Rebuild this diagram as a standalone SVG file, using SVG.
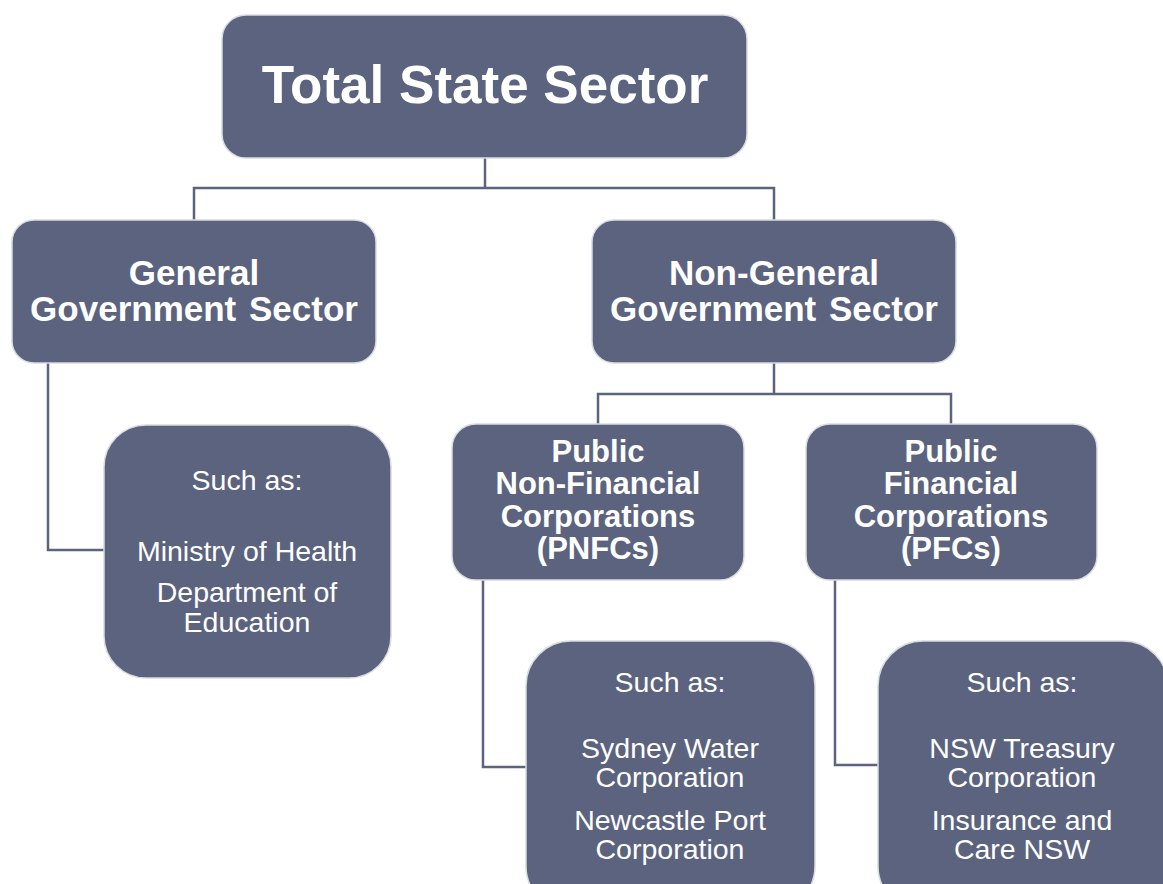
<svg xmlns="http://www.w3.org/2000/svg" width="1163" height="884" viewBox="0 0 1163 884">
<style>
.box{fill:#5C637F;stroke:#D9DBE2;stroke-width:1.5}
.ln{fill:none;stroke:#5C637F;stroke-width:2.5}
.t{font-family:"Liberation Sans",Arial,sans-serif;fill:#fff;text-anchor:middle}
.b{font-weight:bold}
.h{font-size:35px;font-weight:bold}
.m{font-size:31px;font-weight:bold}
.s{font-size:28.5px}
.e{font-size:28.5px}
</style>
<rect width="1163" height="884" fill="#fff"/>
<g id="connectors">
<polyline class="ln" points="485,158 485,188"/>
<polyline class="ln" points="194,220 194,188 774,188 774,220"/>
<polyline class="ln" points="48,363 48,550 105,550"/>
<polyline class="ln" points="774,363 774,394"/>
<polyline class="ln" points="598,425 598,394 951,394 951,425"/>
<polyline class="ln" points="483,580 483,767 527,767"/>
<polyline class="ln" points="835,580 835,765 879,765"/>
</g>
<g id="total">
<rect class="box" x="222" y="15" width="525" height="143" rx="24"/>
<text class="t b" x="485" y="103" font-size="53">Total State Sector</text>
</g>
<g id="ggs">
<rect class="box" x="12" y="220" width="364" height="143" rx="22"/>
<text class="t h" x="194" y="285">General</text>
<text class="t h" x="194" y="321" word-spacing="3">Government Sector</text>
</g>
<g id="nggs">
<rect class="box" x="592" y="220" width="364" height="143" rx="22"/>
<text class="t h" x="774" y="285">Non-General</text>
<text class="t h" x="774" y="321" word-spacing="3">Government Sector</text>
</g>
<g id="ggs-examples">
<rect class="box" x="104" y="425" width="287" height="253" rx="42"/>
<text class="t s" x="247" y="490">Such as:</text>
<text class="t s" x="247" y="561">Ministry of Health</text>
<text class="t s" x="247" y="602">Department of</text>
<text class="t s" x="247" y="632">Education</text>
</g>
<g id="pnfc">
<rect class="box" x="452" y="424" width="292" height="156" rx="24"/>
<text class="t m" x="598" y="462">Public</text>
<text class="t m" x="598" y="494">Non-Financial</text>
<text class="t m" x="598" y="527">Corporations</text>
<text class="t m" x="598" y="559">(PNFCs)</text>
</g>
<g id="pfc">
<rect class="box" x="806" y="424" width="291" height="156" rx="24"/>
<text class="t m" x="951" y="462">Public</text>
<text class="t m" x="951" y="494">Financial</text>
<text class="t m" x="951" y="527">Corporations</text>
<text class="t m" x="951" y="559">(PFCs)</text>
</g>
<g id="pnfc-examples">
<rect class="box" x="526" y="641" width="289" height="270" rx="45"/>
<text class="t e" x="670" y="692">Such as:</text>
<text class="t e" x="670" y="758">Sydney Water</text>
<text class="t e" x="670" y="787">Corporation</text>
<text class="t e" x="670" y="830">Newcastle Port</text>
<text class="t e" x="670" y="859">Corporation</text>
</g>
<g id="pfc-examples">
<rect class="box" x="878" y="641" width="290" height="270" rx="45"/>
<text class="t e" x="1022" y="692">Such as:</text>
<text class="t e" x="1022" y="758">NSW Treasury</text>
<text class="t e" x="1022" y="787">Corporation</text>
<text class="t e" x="1022" y="830">Insurance and</text>
<text class="t e" x="1022" y="859">Care NSW</text>
</g>
</svg>
